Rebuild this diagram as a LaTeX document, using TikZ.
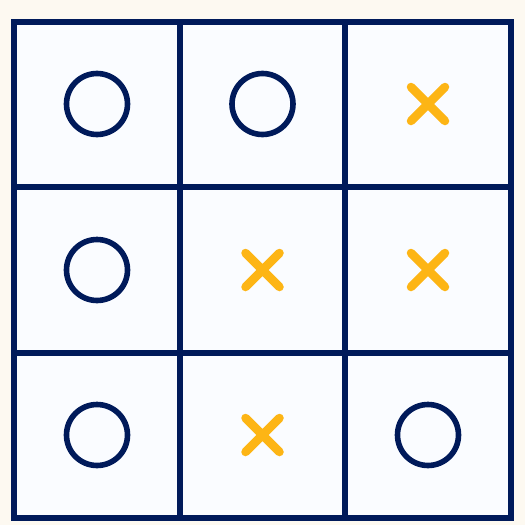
\documentclass[tikz,border=0pt]{standalone}
\definecolor{bgcream}{HTML}{FDF9F1}
\definecolor{cellwhite}{HTML}{FAFCFF}
\definecolor{navy}{HTML}{001A5A}
\definecolor{amber}{HTML}{FDB515}
\tikzset{
  gridline/.style={draw=navy,line width=6pt},
  omark/.style={draw=navy,line width=5.6pt},
  xmark/.style={draw=amber,line width=8.5pt,line cap=round},
}
\newcommand{\omk}[2]{\draw[omark] (#1,#2) circle[radius=30.5];}
\newcommand{\xmk}[2]{\draw[xmark] (#1-17,#2-17) -- (#1+17,#2+17) (#1-17,#2+17) -- (#1+17,#2-17);}
\begin{document}
\begin{tikzpicture}[x=1pt,y=-1pt]
\fill[bgcream] (0,0) rectangle (525,525);
\useasboundingbox (0,0) rectangle (525,525);
\fill[cellwhite] (14,22) rectangle (511,517.5);
\draw[gridline] (180,22) -- (180,517.5) (345,22) -- (345,517.5);
\draw[gridline] (14,186.5) -- (511,186.5) (14,353) -- (511,353);
\draw[gridline] (14,22) rectangle (511,517.5);
\omk{97}{104}
\omk{262.5}{104}
\xmk{428}{104}
\omk{97}{270}
\xmk{262.5}{270}
\xmk{428}{270}
\omk{97}{435}
\xmk{262.5}{435}
\omk{428}{435}
\end{tikzpicture}
\end{document}
